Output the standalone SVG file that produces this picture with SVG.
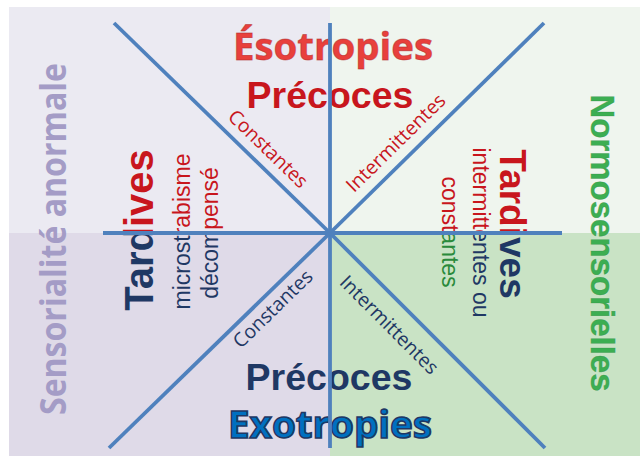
<svg xmlns="http://www.w3.org/2000/svg" xmlns:xlink="http://www.w3.org/1999/xlink" width="640" height="456" viewBox="0 0 640 456">
<defs>
<style>
.bold{font-family:"Liberation Sans",Arial,sans-serif;font-weight:bold}
.reg{font-family:"Liberation Sans",Arial,sans-serif}
.osb{font-family:"Open Sans","Noto Sans",sans-serif;font-weight:bold}
.os{font-family:"Open Sans","Noto Sans",sans-serif}
.axis{stroke:#4f81bd;stroke-width:3.8;fill:none}
.red{fill:#c8161d}
.navy{fill:#1f3864}
</style>
<clipPath id="top" clipPathUnits="userSpaceOnUse"><rect x="0" y="0" width="640" height="233"/></clipPath>
<clipPath id="bot" clipPathUnits="userSpaceOnUse"><rect x="0" y="233" width="640" height="223"/></clipPath>
<text id="tL" class="bold" font-size="40" text-anchor="middle" transform="translate(153,230) rotate(-90)">Tardives</text>
<text id="mL" class="reg" font-size="23" text-anchor="middle" transform="translate(190,231.5) rotate(-90)">microstrabisme</text>
<text id="dL" class="reg" font-size="23" text-anchor="middle" transform="translate(218,233) rotate(-90)">décompensé</text>
<text id="tR" class="bold" font-size="37" text-anchor="middle" transform="translate(500,224) rotate(90)">Tardives</text>
<text id="iR" class="reg" font-size="23" text-anchor="middle" transform="translate(473,232.5) rotate(90)">intermittentes ou</text>
<text id="cR" class="reg" font-size="23" text-anchor="middle" transform="translate(442,232) rotate(90)">constantes</text>
</defs>

<g id="background">
<rect x="9" y="7" width="321" height="226" fill="#ebeaf2"/>
<rect x="330" y="7" width="310" height="226" fill="#eff5ee"/>
<rect x="9" y="233" width="321" height="223" fill="#dfdae8"/>
<rect x="330" y="233" width="310" height="223" fill="#c9e3c5"/>
</g>

<g id="esotropies">
<text class="osb" x="333" y="60" font-size="38" text-anchor="middle" textLength="200" lengthAdjust="spacingAndGlyphs" fill="#e8403c" stroke="#a82828" stroke-width="0.8" stroke-opacity="0.5">Ésotropies</text>
</g>
<g id="precoces-haut">
<text class="bold red" x="330" y="108" font-size="37.5" text-anchor="middle">Précoces</text>
</g>
<g id="precoces-bas">
<text class="bold navy" x="329" y="390" font-size="37.5" text-anchor="middle">Précoces</text>
</g>
<g id="exotropies">
<text class="osb" x="330" y="438" font-size="38" text-anchor="middle" textLength="204" lengthAdjust="spacingAndGlyphs" fill="#0070c0" stroke="#1f3864" stroke-width="1.6">Exotropies</text>
</g>
<g id="sensorialite">
<text class="osb" font-size="36" text-anchor="middle" textLength="352" lengthAdjust="spacingAndGlyphs" fill="#a49cc6" transform="translate(66,239) rotate(-90)">Sensorialité anormale</text>
</g>
<g id="normosensorielles">
<text class="bold" font-size="33" text-anchor="middle" fill="#3cae52" stroke="#2a8a3f" stroke-width="0.5" stroke-opacity="0.6" transform="translate(591,243) rotate(90)">Normosensorielles</text>
</g>

<g id="tardives-gauche">
<use xlink:href="#tL" class="red" clip-path="url(#top)"/>
<use xlink:href="#tL" class="navy" clip-path="url(#bot)"/>
<use xlink:href="#mL" class="red" clip-path="url(#top)"/>
<use xlink:href="#mL" class="navy" clip-path="url(#bot)"/>
<use xlink:href="#dL" class="red" clip-path="url(#top)"/>
<use xlink:href="#dL" class="navy" clip-path="url(#bot)"/>
</g>
<g id="tardives-droite">
<use xlink:href="#tR" class="red" clip-path="url(#top)"/>
<use xlink:href="#tR" class="navy" clip-path="url(#bot)"/>
<use xlink:href="#iR" class="red" clip-path="url(#top)"/>
<use xlink:href="#iR" class="navy" clip-path="url(#bot)"/>
<use xlink:href="#cR" class="red" clip-path="url(#top)"/>
<use xlink:href="#cR" fill="#2a8a3b" clip-path="url(#bot)"/>
</g>

<g id="labels">
<text class="os red" font-size="19.5" text-anchor="middle" transform="translate(267,150) rotate(44.2)" y="5">Constantes</text>
<text class="os red" font-size="19.5" text-anchor="middle" transform="translate(397,144) rotate(-44.5)" y="5">Intermittentes</text>
<text class="os navy" font-size="19.5" text-anchor="middle" transform="translate(274,310) rotate(-44.2)" y="5">Constantes</text>
<text class="os navy" font-size="19.5" text-anchor="middle" transform="translate(388,326) rotate(45)" y="5">Intermittentes</text>
</g>

<g id="connectors">
<line class="axis" x1="103" y1="233" x2="562" y2="233"/>
<line class="axis" x1="330" y1="23" x2="330" y2="448"/>
<line class="axis" x1="330" y1="233" x2="114" y2="23"/>
<line class="axis" x1="330" y1="233" x2="544" y2="23"/>
<line class="axis" x1="330" y1="233" x2="109" y2="448"/>
<line class="axis" x1="330" y1="233" x2="545" y2="448"/>
</g>
</svg>
